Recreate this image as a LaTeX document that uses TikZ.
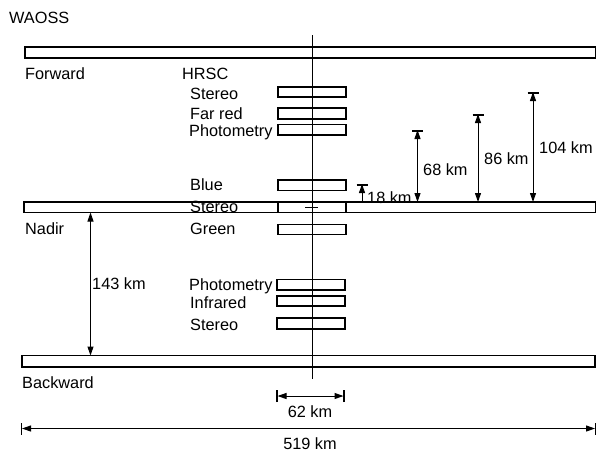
\documentclass[tikz,border=0pt]{standalone}
\usepackage{fontspec}
\setmainfont{Liberation Sans}
\usetikzlibrary{arrows.meta}
\begin{document}
\begin{tikzpicture}[x=1pt,y=-1pt,
  lbl/.style={anchor=base west,inner sep=0pt,font=\fontsize{16.3}{19}\selectfont},
  clbl/.style={anchor=base,inner sep=0pt,font=\fontsize{16.3}{19}\selectfont},
  bar/.style={draw,line width=1.2pt},
  det/.style={draw,line width=1.1pt},
  dim/.style={line width=1pt,{Triangle[length=9pt,width=6pt]}-{Triangle[length=9pt,width=6pt]}},
  dimup/.style={line width=1pt,-{Triangle[length=9pt,width=6pt]}},
  tick/.style={line width=1.3pt}]
\useasboundingbox (0,0) rectangle (596,451);
% WAOSS bars
\draw[bar] (25,47) rectangle (595.5,58);
\draw[bar] (24,202) rectangle (596,212.5);
\draw[bar] (22,355.5) rectangle (595,367);
% nadir detector partitions
\draw[det] (278,202) -- (278,212.5);
\draw[det] (346,202) -- (346,212.5);
\draw[det] (305,207.3) -- (318,207.3);
% HRSC detectors
\draw[det] (278,87) rectangle (346,97);
\draw[det] (278,108) rectangle (346,119);
\draw[det] (278,124.5) rectangle (346,135);
\draw[det] (278,180) rectangle (346,190.5);
\draw[det] (278,224.5) rectangle (346,234.5);
\draw[det] (277,279.5) rectangle (345,290);
\draw[det] (277,296) rectangle (345,306);
\draw[det] (277,318) rectangle (345,329);
% centre line
\coordinate (ctop) at (312.5,35);
\coordinate (cbot) at (312.5,379);
\draw[line width=1.3pt] (ctop) -- (cbot);
% labels
\node[lbl] (waoss) at (9,23) {WAOSS};
\node[lbl] (forward) at (25,79) {Forward};
\node[lbl] (hrsc) at (182,79) {HRSC};
\node[lbl] (s1) at (190,99) {Stereo};
\node[lbl] (fr) at (190,119) {Far red};
\node[lbl] (ph1) at (189,136) {Photometry};
\node[lbl] (blue) at (190,190) {Blue};
\node[lbl] (s2) at (190,212) {Stereo};
\node[lbl] (green) at (190,234) {Green};
\node[lbl] (ph2) at (189,290) {Photometry};
\node[lbl] (ir) at (190,308) {Infrared};
\node[lbl] (s3) at (190,330) {Stereo};
\node[lbl] (nadir) at (25,234) {Nadir};
\node[lbl] (backward) at (22,388) {Backward};
% 143 km
\coordinate (a143t) at (90.5,212.5);
\coordinate (a143b) at (90.5,355.5);
\draw[dim] (a143t) -- (a143b);
\node[lbl] (l143) at (92,289) {143 km};
% height dimensions
\foreach \x/\y/\n in {362/185/18,417.5/131/68,478/115/86,533/93/104}{
  \coordinate (t\n) at (\x,\y);
  \coordinate (b\n) at (\x,202);
  \draw[tick] ([xshift=-5.5pt]t\n) -- ([xshift=5.5pt]t\n);
}
\draw[dimup] (b18) -- ([yshift=1pt]t18);
\draw[dim] ([yshift=1pt]t68) -- (b68);
\draw[dim] ([yshift=1pt]t86) -- (b86);
\draw[dim] ([yshift=1pt]t104) -- (b104);
\node[lbl] (l18) at (367,203) {18 km};
\node[lbl] (l68) at (423,175) {68 km};
\node[lbl] (l86) at (484,164) {86 km};
\node[lbl] (l104) at (539,153) {104 km};
% 62 km
\coordinate (w62l) at (277,396);
\coordinate (w62r) at (344,396);
\draw[tick] ([yshift=-6pt]w62l) -- ([yshift=6pt]w62l);
\draw[tick] ([yshift=-6pt]w62r) -- ([yshift=6pt]w62r);
\draw[dim] ([xshift=0.5pt]w62l) -- ([xshift=-0.5pt]w62r);
\node[clbl] (l62) at (310,417) {62 km};
% 519 km
\coordinate (w519l) at (21.5,428.5);
\coordinate (w519r) at (595.5,428.5);
\draw[tick] ([yshift=-6pt]w519l) -- ([yshift=6pt]w519l);
\draw[tick] ([yshift=-6pt]w519r) -- ([yshift=6pt]w519r);
\draw[dim] ([xshift=0.5pt]w519l) -- ([xshift=-0.5pt]w519r);
\node[clbl] (l519) at (310,449) {519 km};
\end{tikzpicture}
\end{document}
